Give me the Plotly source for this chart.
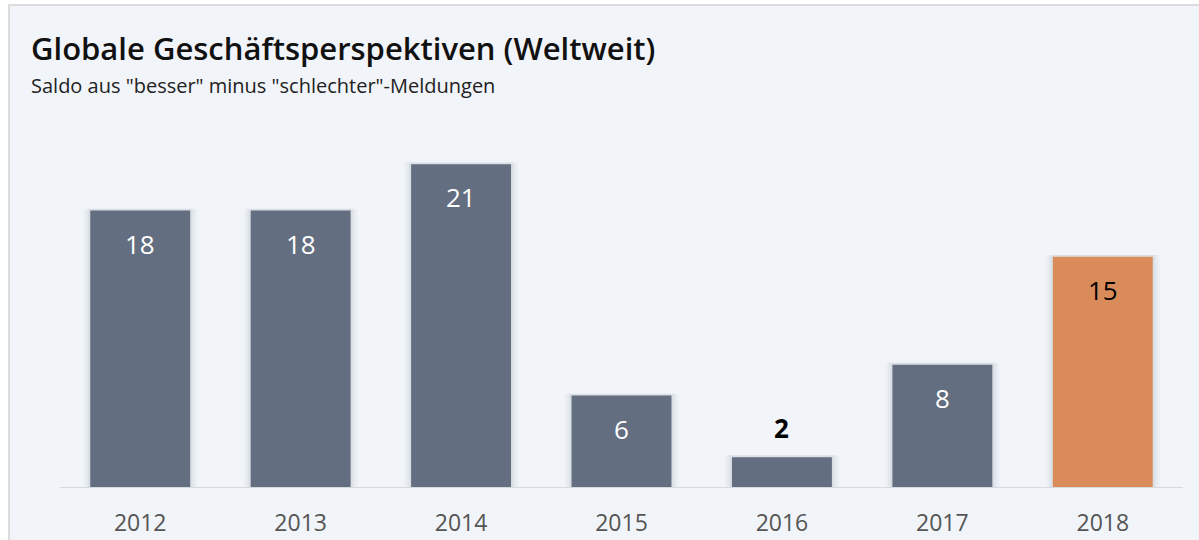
import plotly.graph_objects as go

years = ["2012", "2013", "2014", "2015", "2016", "2017", "2018"]
values = [18, 18, 21, 6, 2, 8, 15]
bar_colors = ["#636e80", "#636e80", "#636e80", "#636e80", "#636e80", "#636e80", "#d98c5a"]
label_colors = ["white", "white", "white", "white", "black", "white", "black"]

title_text = "Globale Geschäftsperspektiven (Weltweit)"
subtitle_text = 'Saldo aus "besser" minus "schlechter"-Meldungen'

W, H = 1199, 540
L, R, T, B = 60, 15.5, 118, 52
PW, PH = W - L - R, H - T - B

def px_x(x):
    return (x - L) / PW

def px_y(y):
    return (H - B - y) / PH

fig = go.Figure()

# soft shadow layers
for w, a in [(0.71, 0.025), (0.68, 0.04), (0.65, 0.06)]:
    fig.add_trace(go.Bar(x=years, y=[v + 0.12 for v in values], width=w,
                         marker=dict(color=f"rgba(60,70,90,{a})", line=dict(width=0)),
                         hoverinfo="skip", showlegend=False))

fig.add_trace(go.Bar(x=years, y=values, width=0.623,
                     marker=dict(color=bar_colors, line=dict(width=0)),
                     showlegend=False))

annotations = []
for i, (v, c) in enumerate(zip(values, label_colors)):
    outside = v < 4
    annotations.append(dict(x=i, y=v, xref="x", yref="y", text=f"<b>{v}</b>" if outside else str(v),
                            showarrow=False, yshift=29 if outside else -33,
                            font=dict(family="Open Sans", size=26, color=c, weight=500),
                            xanchor="center", yanchor="middle"))

annotations.append(dict(x=px_x(29), y=px_y(48), xref="paper", yref="paper", text=title_text,
                        showarrow=False, xanchor="left", yanchor="middle",
                        font=dict(family="Open Sans", size=31, color="#111", weight=600)))
annotations.append(dict(x=px_x(29), y=px_y(85), xref="paper", yref="paper", text=subtitle_text,
                        showarrow=False, xanchor="left", yanchor="middle",
                        font=dict(family="Open Sans", size=20, color="#222")))

shapes = [
    dict(type="rect", xref="paper", yref="paper", x0=px_x(9), x1=px_x(1203), y0=px_y(5), y1=px_y(560),
         fillcolor="#f1f4f9", line=dict(color="#dcdcdc", width=2), layer="below"),
    dict(type="line", xref="paper", yref="y", x0=0, x1=1, y0=0, y1=0,
         line=dict(color="#d6d9dd", width=2), layer="above"),
]

fig.update_layout(
    width=W, height=H,
    margin=dict(l=L, r=R, t=T, b=B, autoexpand=False),
    paper_bgcolor="white", plot_bgcolor="rgba(0,0,0,0)",
    barmode="overlay",
    xaxis=dict(type="category", range=[-0.5, 6.5], showgrid=False, showline=False, zeroline=False,
               ticks="", automargin=False,
               tickfont=dict(family="Open Sans", size=23, color="#555"), ticklabelstandoff=19),
    yaxis=dict(range=[0, 24], visible=False, automargin=False),
    annotations=annotations, shapes=shapes,
    showlegend=False,
)

fig.write_html("out.html", config={"displayModeBar": False},
               post_script="document.body.style.margin='0';document.body.style.overflow='hidden';")
